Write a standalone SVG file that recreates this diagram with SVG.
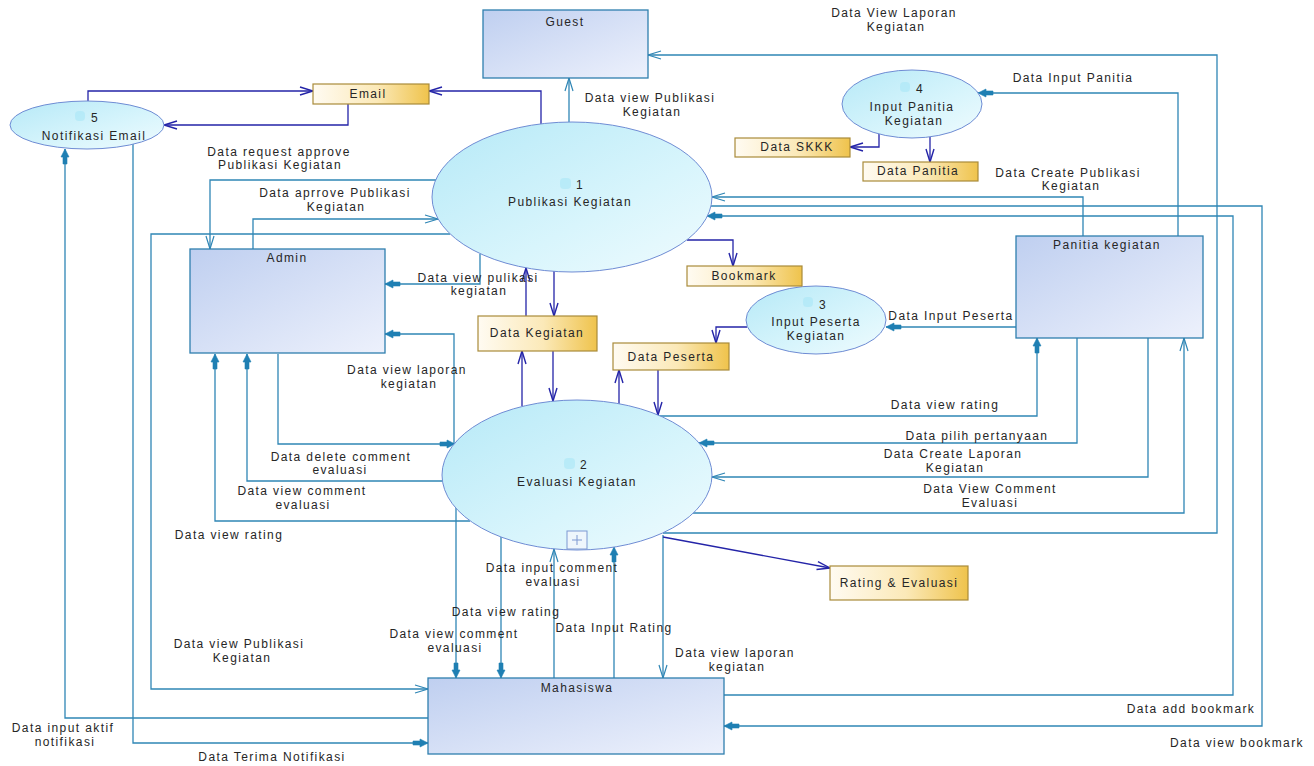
<svg xmlns="http://www.w3.org/2000/svg" width="1314" height="766" viewBox="0 0 1314 766">
<style>
.t{font-family:"Liberation Sans",Arial,sans-serif;font-size:12px;letter-spacing:1.4px;fill:#262626;text-anchor:middle}
.ct{fill:none;stroke:#2f86b5;stroke-width:1.3}
.cb{fill:none;stroke:#2424a8;stroke-width:1.3}
.proc{fill:url(#gProc);stroke:#6f8cd4;stroke-width:1}
.ent{fill:url(#gEnt);stroke:#2f7fae;stroke-width:1.3}
.store{fill:url(#gStore);stroke:#a98b3a;stroke-width:1.2}
.blob{fill:#a6e6f6;opacity:0.55}
</style>
<defs>
<linearGradient id="gProc" x1="0" y1="0" x2="1" y2="1">
<stop offset="0" stop-color="#b6e9f7"/><stop offset="0.6" stop-color="#d8f5fc"/><stop offset="1" stop-color="#effbfe"/>
</linearGradient>
<linearGradient id="gEnt" x1="0" y1="0" x2="1" y2="1">
<stop offset="0" stop-color="#bfcff0"/><stop offset="1" stop-color="#edf1fc"/>
</linearGradient>
<linearGradient id="gStore" x1="0" y1="0" x2="1" y2="0">
<stop offset="0" stop-color="#fffbf2"/><stop offset="0.55" stop-color="#fbe9b8"/><stop offset="1" stop-color="#efc34c"/>
</linearGradient>
<marker id="oT" markerUnits="userSpaceOnUse" markerWidth="14" markerHeight="10" refX="13" refY="5" orient="auto" overflow="visible">
<path d="M0,1 L13,5 L0,9" fill="none" stroke="#2f86b5" stroke-width="1.2"/>
</marker>
<marker id="oB" markerUnits="userSpaceOnUse" markerWidth="14" markerHeight="10" refX="13" refY="5" orient="auto" overflow="visible">
<path d="M0,1 L13,5 L0,9" fill="none" stroke="#2424a8" stroke-width="1.4"/>
</marker>
<marker id="fT" markerUnits="userSpaceOnUse" markerWidth="16" markerHeight="10" refX="15" refY="5" orient="auto" overflow="visible">
<path d="M0,3 L7,3 L7,1 L15,5 L7,9 L7,7 L0,7 z" fill="#1f7fb3" stroke="#1f7fb3" stroke-width="0.6"/>
</marker>
</defs>
<rect width="1314" height="766" fill="#ffffff"/>

<g id="connectors">
<path class="cb" d="M88,101 V91 H313" marker-end="url(#oB)"/>
<path class="cb" d="M348,104 V125 H164" marker-end="url(#oB)"/>
<path class="cb" d="M541,124 V91 H429" marker-end="url(#oB)"/>
<path class="ct" d="M569,122 V78" marker-end="url(#oT)"/>
<path class="ct" d="M663,533 H1217 V55 H648" marker-end="url(#oT)"/>
<path class="ct" d="M253,249 V219 H438" marker-end="url(#oT)"/>
<path class="ct" d="M436,180 H210 V249" marker-end="url(#oT)"/>
<path class="ct" d="M450,234 H151 V689 H428" marker-end="url(#oT)"/>
<path class="ct" d="M480,254 V284 H385" marker-end="url(#fT)"/>
<path class="cb" d="M554,271 V316" marker-end="url(#oB)"/>
<path class="cb" d="M526,316 V268" marker-end="url(#oB)"/>
<path class="cb" d="M553,351 V401" marker-end="url(#oB)"/>
<path class="cb" d="M522,406 V351" marker-end="url(#oB)"/>
<path class="cb" d="M687,240 H733 V266" marker-end="url(#oB)"/>
<path class="cb" d="M747,327 H716 V343" marker-end="url(#oB)"/>
<path class="ct" d="M1016,327 H886" marker-end="url(#fT)"/>
<path class="cb" d="M619,404 V370" marker-end="url(#oB)"/>
<path class="cb" d="M658,370 V415" marker-end="url(#oB)"/>
<path class="ct" d="M658,416 H1037 V338" marker-end="url(#fT)"/>
<path class="ct" d="M1077,338 V443 H699" marker-end="url(#fT)"/>
<path class="ct" d="M1148,338 V477 H712" marker-end="url(#oT)"/>
<path class="ct" d="M693,513 H1184 V338" marker-end="url(#oT)"/>
<path class="ct" d="M1083,236 V197 H712" marker-end="url(#oT)"/>
<path class="ct" d="M1178,236 V93 H978" marker-end="url(#fT)"/>
<path class="cb" d="M879,134 V147 H850" marker-end="url(#oB)"/>
<path class="cb" d="M930,137 V162" marker-end="url(#oB)"/>
<path class="ct" d="M711,206 H1262 V726 H724" marker-end="url(#fT)"/>
<path class="ct" d="M724,695 H1233 V216 H707" marker-end="url(#fT)"/>
<path class="ct" d="M454,444 V334 H385" marker-end="url(#fT)"/>
<path class="ct" d="M278,354 V444 H455" marker-end="url(#fT)"/>
<path class="ct" d="M442,481 H247 V354" marker-end="url(#fT)"/>
<path class="ct" d="M470,521 H215 V354" marker-end="url(#fT)"/>
<path class="ct" d="M133,144 V743 H428" marker-end="url(#fT)"/>
<path class="ct" d="M428,718 H65 V149" marker-end="url(#fT)"/>
<path class="ct" d="M456,508 V678" marker-end="url(#fT)"/>
<path class="ct" d="M501,537 V678" marker-end="url(#fT)"/>
<path class="ct" d="M554,678 V549" marker-end="url(#oT)"/>
<path class="ct" d="M614,678 V547" marker-end="url(#fT)"/>
<path class="ct" d="M663,535 V678" marker-end="url(#oT)"/>
<path class="cb" d="M663,537 L830,568" marker-end="url(#oB)"/>
</g>

<g id="flow-labels">
<text class="t" x="894" y="17">Data View Laporan</text>
<text class="t" x="896" y="31">Kegiatan</text>
<text class="t" x="650" y="102">Data view Publikasi</text>
<text class="t" x="652" y="116">Kegiatan</text>
<text class="t" x="1073" y="82">Data Input Panitia</text>
<text class="t" x="279" y="156">Data request approve</text>
<text class="t" x="280" y="169">Publikasi Kegiatan</text>
<text class="t" x="335" y="197">Data aprrove Publikasi</text>
<text class="t" x="336" y="211">Kegiatan</text>
<text class="t" x="1068" y="177">Data Create Publikasi</text>
<text class="t" x="1071" y="190">Kegiatan</text>
<text class="t" x="478" y="282">Data view pulikasi</text>
<text class="t" x="479" y="295">kegiatan</text>
<text class="t" x="951" y="320">Data Input Peserta</text>
<text class="t" x="407" y="374">Data view laporan</text>
<text class="t" x="409" y="388">kegiatan</text>
<text class="t" x="945" y="409">Data view rating</text>
<text class="t" x="977" y="440">Data pilih pertanyaan</text>
<text class="t" x="341" y="461">Data delete comment</text>
<text class="t" x="340" y="474">evaluasi</text>
<text class="t" x="953" y="458">Data Create Laporan</text>
<text class="t" x="955" y="472">Kegiatan</text>
<text class="t" x="302" y="495">Data view comment</text>
<text class="t" x="303" y="509">evaluasi</text>
<text class="t" x="990" y="493">Data View Comment</text>
<text class="t" x="990" y="507">Evaluasi</text>
<text class="t" x="229" y="539">Data view rating</text>
<text class="t" x="552" y="572">Data input comment</text>
<text class="t" x="553" y="586">evaluasi</text>
<text class="t" x="506" y="616">Data view rating</text>
<text class="t" x="614" y="632">Data Input Rating</text>
<text class="t" x="454" y="638">Data view comment</text>
<text class="t" x="455" y="652">evaluasi</text>
<text class="t" x="239" y="648">Data view Publikasi</text>
<text class="t" x="242" y="662">Kegiatan</text>
<text class="t" x="735" y="657">Data view laporan</text>
<text class="t" x="737" y="671">kegiatan</text>
<text class="t" x="1191" y="713">Data add bookmark</text>
<text class="t" x="63" y="732">Data input aktif</text>
<text class="t" x="65" y="746">notifikasi</text>
<text class="t" x="1237" y="747">Data view bookmark</text>
<text class="t" x="272" y="761">Data Terima Notifikasi</text>
</g>

<g id="guest">
<rect class="ent" x="483" y="10" width="165" height="68"/>
<text class="t" x="565" y="26">Guest</text>
</g>
<g id="admin">
<rect class="ent" x="190" y="249" width="195" height="104"/>
<text class="t" x="287" y="262">Admin</text>
</g>
<g id="panitia-kegiatan">
<rect class="ent" x="1016" y="236" width="187" height="102"/>
<text class="t" x="1107" y="249">Panitia kegiatan</text>
</g>
<g id="mahasiswa">
<rect class="ent" x="428" y="678" width="296" height="76"/>
<text class="t" x="577" y="692">Mahasiswa</text>
</g>

<g id="proc-5-notifikasi-email">
<ellipse class="proc" cx="87" cy="125" rx="77" ry="24"/>
<rect class="blob" x="75" y="111" width="10" height="10" rx="4"/>
<text class="t" x="95" y="122">5</text>
<text class="t" x="94" y="140">Notifikasi Email</text>
</g>
<g id="proc-1-publikasi-kegiatan">
<ellipse class="proc" cx="572" cy="197" rx="140" ry="75"/>
<rect class="blob" x="560" y="178" width="11" height="11" rx="4"/>
<text class="t" x="580" y="189">1</text>
<text class="t" x="570" y="206">Publikasi Kegiatan</text>
</g>
<g id="proc-2-evaluasi-kegiatan">
<ellipse class="proc" cx="577" cy="475" rx="135" ry="75"/>
<rect class="blob" x="564" y="458" width="11" height="11" rx="4"/>
<text class="t" x="584" y="469">2</text>
<text class="t" x="577" y="486">Evaluasi Kegiatan</text>
<rect x="567" y="531" width="20" height="18" fill="#eef6fc" stroke="#7d98d2" stroke-width="1"/>
<path d="M577,535 V545 M572,540 H582" stroke="#7d98d2" stroke-width="1"/>
</g>
<g id="proc-3-input-peserta">
<ellipse class="proc" cx="816" cy="320" rx="70" ry="34"/>
<rect class="blob" x="803" y="297" width="10" height="10" rx="4"/>
<text class="t" x="823" y="309">3</text>
<text class="t" x="816" y="326">Input Peserta</text>
<text class="t" x="816" y="340">Kegiatan</text>
</g>
<g id="proc-4-input-panitia">
<ellipse class="proc" cx="912" cy="104" rx="70" ry="34"/>
<rect class="blob" x="900" y="82" width="10" height="10" rx="4"/>
<text class="t" x="920" y="93">4</text>
<text class="t" x="912" y="111">Input Panitia</text>
<text class="t" x="914" y="125">Kegiatan</text>
</g>

<g id="store-email">
<rect class="store" x="313" y="84" width="116" height="20"/>
<text class="t" x="368" y="98">Email</text>
</g>
<g id="store-data-skkk">
<rect class="store" x="735" y="138" width="115" height="19"/>
<text class="t" x="797" y="151">Data SKKK</text>
</g>
<g id="store-data-panitia">
<rect class="store" x="863" y="162" width="115" height="19"/>
<text class="t" x="918" y="175">Data Panitia</text>
</g>
<g id="store-bookmark">
<rect class="store" x="687" y="266" width="115" height="20"/>
<text class="t" x="744" y="280">Bookmark</text>
</g>
<g id="store-data-kegiatan">
<rect class="store" x="478" y="316" width="119" height="35"/>
<text class="t" x="537" y="337">Data Kegiatan</text>
</g>
<g id="store-data-peserta">
<rect class="store" x="613" y="343" width="116" height="27"/>
<text class="t" x="671" y="361">Data Peserta</text>
</g>
<g id="store-rating-evaluasi">
<rect class="store" x="830" y="566" width="138" height="34"/>
<text class="t" x="899" y="587">Rating &amp; Evaluasi</text>
</g>
</svg>
